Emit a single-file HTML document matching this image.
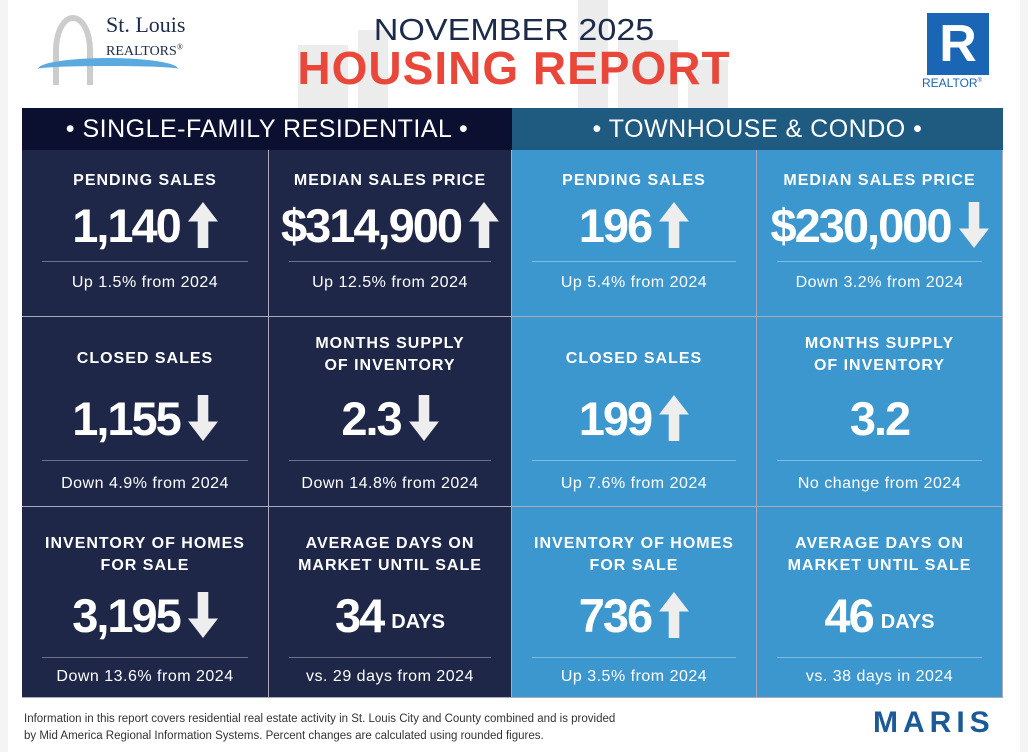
<!DOCTYPE html>
<html><head><meta charset="utf-8"><style>
*{margin:0;padding:0;box-sizing:border-box}
body{width:1028px;height:752px;background:#f4f4f4;font-family:"Liberation Sans",sans-serif;position:relative;overflow:hidden}
.page{position:absolute;left:8px;top:0;width:1012px;height:752px;background:#fff}
.hdr{position:absolute;top:108px;height:42px;color:#fff;font-size:25px;text-align:center;line-height:42px;letter-spacing:0.5px}
.cell{position:absolute;color:#fff;text-align:center;border-right:1px solid #aab;border-bottom:1px solid #aab}
.dk{background:#1e2747}.lt{background:#3c97cf}
.t{position:absolute;left:0;right:0;font-size:16px;font-weight:bold;letter-spacing:1px;line-height:22px}
.n{position:absolute;left:0;right:0;font-size:47px;font-weight:bold;letter-spacing:-2px;display:flex;justify-content:center;align-items:center;gap:8px;height:60px}
.n small{font-size:20px;letter-spacing:0;margin-top:14px}
.hr{position:absolute;left:20px;right:20px;height:1px;background:rgba(255,255,255,.35)}
.s{position:absolute;left:0;right:0;font-size:16px;letter-spacing:0.5px;line-height:20px}
</style></head><body><div class="page">
<svg style="position:absolute;left:270px;top:0" width="480" height="108"><g fill="#ececec"><rect x="20" y="45" width="50" height="63"/><rect x="80" y="30" width="30" height="78"/><rect x="340" y="40" width="60" height="68"/><rect x="410" y="60" width="40" height="48"/><rect x="300" y="0" width="30" height="108"/></g></svg>
<div style="position:absolute;left:45px;top:15px;width:40px;height:70px;border:6px solid #ccc;border-bottom:none;border-radius:50% 50% 0 0"></div>
<div style="position:absolute;left:30px;top:58px;width:140px;height:22px;border-top:8px solid #5aa9df;border-radius:50%"></div>
<div style="position:absolute;left:98px;top:14px;font-family:'Liberation Serif',serif;color:#1c2b4a;font-size:22px;line-height:22px">St. Louis<br><span style="font-size:14px">REALTORS<sup style="font-size:8px">®</sup></span></div>
<div style="position:absolute;left:0;width:1012px;top:13px;text-align:center;color:#1c2b4a;font-size:31px;line-height:34px;transform:scaleX(1.1)">NOVEMBER 2025</div>
<div style="position:absolute;left:0;width:1012px;top:44px;text-align:center;color:#e8473a;font-size:46px;font-weight:bold;line-height:48px;letter-spacing:1px">HOUSING REPORT</div>
<div style="position:absolute;left:919px;top:13px;width:62px;height:62px;background:#1a66b5;color:#fff;font-size:52px;font-weight:bold;text-align:center;line-height:62px">R</div>
<div style="position:absolute;left:914px;top:76px;color:#1a66b5;font-size:12px">REALTOR<sup style="font-size:6px">®</sup></div>
<div class="hdr" style="left:14px;width:490px;background:#0b1030">• SINGLE-FAMILY RESIDENTIAL •</div>
<div class="hdr" style="left:504px;width:491px;background:#1f5a80">• TOWNHOUSE &amp; CONDO •</div>
<div id="g"></div>
<div style="position:absolute;left:16px;top:711px;font-size:11.5px;color:#333;line-height:17px">Information in this report covers residential real estate activity in St. Louis City and County combined and is provided<br>by Mid America Regional Information Systems. Percent changes are calculated using rounded figures.</div>
<div style="position:absolute;left:865px;top:706px;color:#1c5a96;font-size:30px;font-weight:bold;letter-spacing:5px">MARIS</div>
</div>
<script>
const up='<svg width="30" height="46" viewBox="0 0 34 52"><path d="M17 0L34 22H23V52H11V22H0Z" fill="#eee"/></svg>';
const dn='<svg width="30" height="46" viewBox="0 0 34 52"><path d="M17 52L34 30H23V0H11V30H0Z" fill="#eee"/></svg>';
const cols=[14,261,504,749,995],rows=[150,317,507,698];
// per row: title1 center, title2 first-line center, num center, hr, sub center
const L=[[31,31,75,111,133],[42,27,101,143,167],[37,37,108,150,170]];
const d=[
[['PENDING SALES','1,140',up,'Up 1.5% from 2024'],['MEDIAN SALES PRICE','$314,900',up,'Up 12.5% from 2024'],['PENDING SALES','196',up,'Up 5.4% from 2024'],['MEDIAN SALES PRICE','$230,000',dn,'Down 3.2% from 2024']],
[['CLOSED SALES','1,155',dn,'Down 4.9% from 2024'],['MONTHS SUPPLY<br>OF INVENTORY','2.3',dn,'Down 14.8% from 2024'],['CLOSED SALES','199',up,'Up 7.6% from 2024'],['MONTHS SUPPLY<br>OF INVENTORY','3.2','','No change from 2024']],
[['INVENTORY OF HOMES<br>FOR SALE','3,195',dn,'Down 13.6% from 2024'],['AVERAGE DAYS ON<br>MARKET UNTIL SALE','34','<small>DAYS</small>','vs. 29 days from 2024'],['INVENTORY OF HOMES<br>FOR SALE','736',up,'Up 3.5% from 2024'],['AVERAGE DAYS ON<br>MARKET UNTIL SALE','46','<small>DAYS</small>','vs. 38 days in 2024']]];
let h='';
for(let r=0;r<3;r++)for(let c=0;c<4;c++){const [t,n,a,s]=d[r][c];const H=rows[r+1]-rows[r];const two=t.includes('<br>');const l=L[r];
h+=`<div class="cell ${c<2?'dk':'lt'}" style="left:${cols[c]}px;top:${rows[r]}px;width:${cols[c+1]-cols[c]}px;height:${H}px">
<div class="t" style="top:${(two?l[1]:l[0])-11}px">${t}</div>
<div class="n" style="top:${l[2]-30}px">${n}${a}</div>
<div class="hr" style="top:${l[3]}px"></div>
<div class="s" style="top:${l[4]-10}px">${s}</div></div>`;}
document.getElementById('g').innerHTML=h;
</script>
</body></html>
